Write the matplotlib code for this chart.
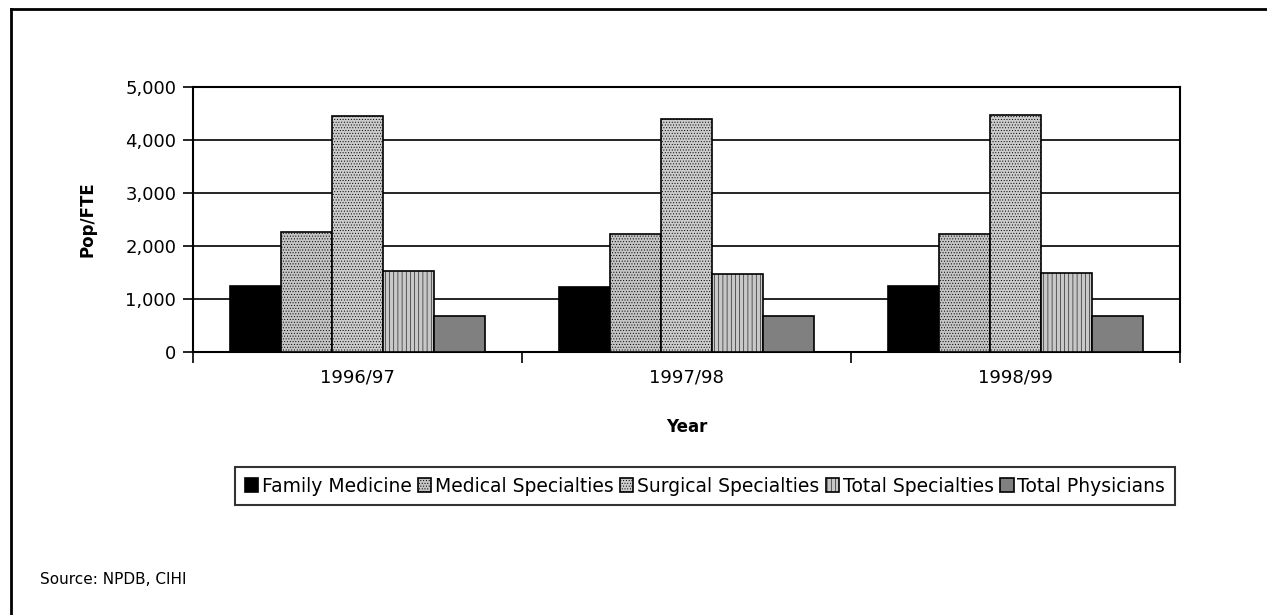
import matplotlib
matplotlib.use("Agg")
import matplotlib.pyplot as plt
import numpy as np
from matplotlib.lines import Line2D

years = ["1996/97", "1997/98", "1998/99"]
series = ["Family Medicine", "Medical Specialties", "Surgical Specialties",
          "Total Specialties", "Total Physicians"]
family_medicine = [1250, 1220, 1250]
medical_specialties = [2270, 2230, 2230]
surgical_specialties = [4460, 4390, 4470]
total_specialties = [1520, 1480, 1490]
total_physicians = [680, 680, 680]
yticks = [0, 1000, 2000, 3000, 4000, 5000]

values = [family_medicine, medical_specialties, surgical_specialties,
          total_specialties, total_physicians]
colors = ["#000000", "#c4c4c4", "#cccccc", "#c8c8c8", "#808080"]
hatches = [None, "......", "......", "||||", None]

plt.rcParams["font.family"] = ["DejaVu Sans"]
plt.rcParams["hatch.linewidth"] = 0.4
plt.rcParams["hatch.color"] = "#a8a8a8"

fig = plt.figure(figsize=(12.67, 6.15), dpi=100)
ax = fig.add_axes([193/1267, 1-352/615, (1180-193)/1267, (352-87)/615])

x = np.arange(len(years))
w = 0.155
for i, (vals, c, h, name) in enumerate(zip(values, colors, hatches, series)):
    ax.bar(x + (i - 2) * w, vals, width=w, color=c, edgecolor="black",
           linewidth=1.2, hatch=h, label=name, zorder=3)

ax.set_xlim(-0.5, 2.5)
ax.set_ylim(0, 5000)
ax.set_yticks(yticks)
ax.set_yticklabels([f"{v:,}" for v in yticks], fontsize=13)
ax.yaxis.grid(True, color="black", linewidth=1.2, zorder=0)
ax.set_axisbelow(True)

ax.set_xticks([-0.5, 0.5, 1.5, 2.5])
ax.set_xticklabels([])
ax.set_xticks(x, minor=True)
ax.set_xticklabels(years, minor=True, fontsize=13)
ax.tick_params(axis="x", which="major", direction="out", length=8, width=1.2)
ax.tick_params(axis="x", which="minor", length=0, pad=12)
ax.tick_params(axis="y", direction="out", length=7, width=1.2, pad=5)
for s in ax.spines.values():
    s.set_linewidth(1.5)

ax.set_xlabel("Year", fontsize=12, fontweight="bold")
ax.xaxis.set_label_coords(0.5, (352-427)/(352-87), transform=ax.transAxes)
ax.xaxis.label.set_va("center")
ax.set_ylabel("Pop/FTE", fontsize=12, fontweight="bold")
ax.yaxis.set_label_coords((88-193)/(1180-193), 0.5, transform=ax.transAxes)
ax.yaxis.label.set_va("center")

leg = fig.legend(loc="center", bbox_to_anchor=(705/1267, 1-486/615), ncol=5,
                 fontsize=13.5, frameon=True, fancybox=False, edgecolor="black",
                 handlelength=0.7, handleheight=0.7, handletextpad=0.2,
                 columnspacing=0.35, borderpad=0.5, borderaxespad=0)
leg.get_frame().set_linewidth(1.5)

fig.text(40/1267, 1-579/615, "Source: NPDB, CIHI", fontsize=11, va="center", ha="left")

fig.add_artist(Line2D([11/1267, 11/1267], [0, 1-9/615], color="black", linewidth=2,
                      transform=fig.transFigure))
fig.add_artist(Line2D([11/1267, 1], [1-9/615, 1-9/615], color="black", linewidth=2,
                      transform=fig.transFigure))

fig.savefig("out.png", dpi=100)
